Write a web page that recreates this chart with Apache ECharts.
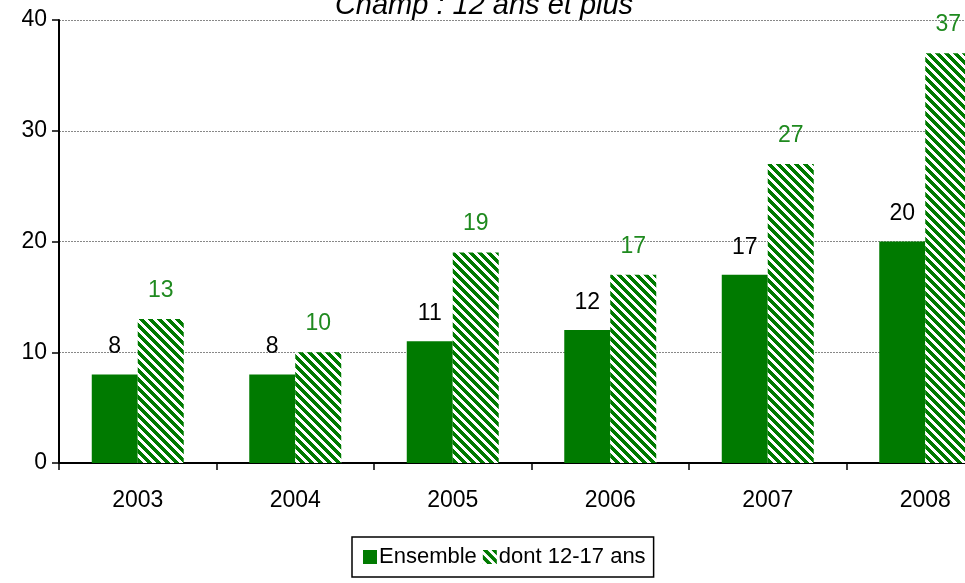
<!DOCTYPE html>
<html><head><meta charset="utf-8">
<script src="https://cdn.jsdelivr.net/npm/echarts@6/dist/echarts.min.js"></script>
<style>html,body{margin:0;padding:0;background:#fff;overflow:hidden}#c{width:1010px;height:583px}</style>
</head><body><div id="c"></div>
<script>
const categories = ['2003','2004','2005','2006','2007','2008'];
const ensemble = [8, 8, 11, 12, 17, 20];
const jeunes = [13, 10, 19, 17, 27, 37];
const seriesNames = ['Ensemble', 'dont 12-17 ans'];
const titleText = 'Champ : 12 ans et plus';

const GREEN = '#007a00';
function makePattern() {
  const c = document.createElement('canvas');
  const s = 9;
  c.width = s; c.height = s;
  const ctx = c.getContext('2d');
  ctx.fillStyle = '#fff'; ctx.fillRect(0,0,s,s);
  ctx.fillStyle = GREEN;
  for (let y = 0; y < s; y++) {
    for (let x = 0; x < s; x++) {
      const d = ((x - y) % s + s) % s;
      if (d < 5) ctx.fillRect(x, y, 1, 1);
    }
  }
  return c;
}
const pat = makePattern();
const FONT = '"Liberation Sans", Arial, sans-serif';
const FS = 23;

const chart = echarts.init(document.getElementById('c'), null, {renderer: 'canvas'});
chart.setOption({
  animation: false,
  title: {
    text: titleText, left: 479, textAlign: 'center', top: -14,
    textStyle: {fontFamily: FONT, fontStyle: 'italic', fontWeight: 'normal', fontSize: 29, color: '#000'}
  },
  grid: {left: 59, width: 945, top: 20, height: 443, containLabel: false},
  legend: {
    left: 352, top: 537,
    padding: [9, 8, 9, 11],
    borderColor: '#000', borderWidth: 1.5,
    itemWidth: 14, itemHeight: 14, itemGap: 6,
    icon: 'rect',
    textStyle: {fontFamily: FONT, fontSize: FS - 1, color: '#000', padding: [0,0,0,-3]},
    data: seriesNames
  },
  xAxis: {
    type: 'category', data: categories,
    axisLine: {lineStyle: {color: '#000', width: 2}},
    axisTick: {show: true, length: 7, inside: false, lineStyle: {color: '#000', width: 1.5}},
    axisLabel: {fontFamily: FONT, fontSize: FS, color: '#000', margin: 26}
  },
  yAxis: {
    type: 'value', min: 0, max: 40, interval: 10,
    axisLine: {show: true, lineStyle: {color: '#000', width: 2}},
    axisTick: {show: true, length: 7, lineStyle: {color: '#000', width: 1.5}},
    axisLabel: {fontFamily: FONT, fontSize: FS, color: '#000', margin: 12},
    splitLine: {show: true, lineStyle: {color: '#888', type: [2, 1], width: 1}}
  },
  series: [
    {
      name: seriesNames[0], type: 'bar', data: ensemble,
      barGap: '0%', barCategoryGap: '41.6%',
      itemStyle: {color: GREEN},
      label: {show: true, position: 'top', distance: 16, fontFamily: FONT, fontSize: FS, color: '#000'}
    },
    {
      name: seriesNames[1], type: 'bar', data: jeunes,
      barGap: '0%', barCategoryGap: '41.6%',
      itemStyle: {color: {image: pat, repeat: 'repeat'}},
      label: {show: true, position: 'top', distance: 17, fontFamily: FONT, fontSize: FS, color: '#1f8a1f'}
    }
  ]
});
</script></body></html>
